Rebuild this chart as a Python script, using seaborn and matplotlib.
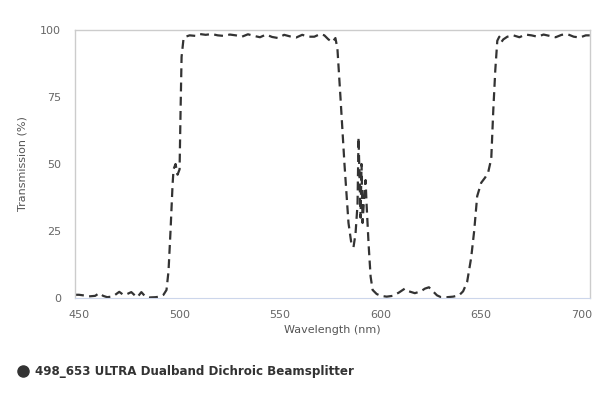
import matplotlib
matplotlib.use('Agg')
import matplotlib.pyplot as plt
import seaborn as sns
import pandas as pd
from matplotlib.lines import Line2D

# Transmission curve
wavelength = [448, 450, 452, 455, 458, 460, 462, 464, 466, 468, 470, 472, 474, 476, 478, 479, 481, 483,
              485, 488, 490, 492, 493.5, 494.5, 495.5, 496.5, 497, 498, 499, 500, 500.5, 501, 502,
              503, 505, 508, 510, 513, 516, 519, 522, 525, 528, 531, 534, 537, 540, 543, 546, 549,
              552, 555, 558, 561, 564, 567, 570, 572, 574, 576, 577.5, 578.5, 580, 582, 584, 585.5,
              586.5, 587.5, 588.5, 589, 589.5, 590, 590.5, 591, 592, 592.5, 593, 594, 595, 596, 598,
              600, 603, 606, 609, 612, 614, 617, 620, 622, 624, 626, 628, 630, 633, 636, 639, 641,
              643, 645, 646.5, 648, 650, 652, 653.5, 655, 656, 657, 658, 659, 660, 661, 663, 666,
              669, 672, 675, 678, 681, 684, 687, 690, 693, 696, 699, 702, 704]
transmission = [1.2, 1.2, 1.0, 0.6, 0.8, 1.8, 0.8, 0.3, 0.5, 1.2, 2.3, 1.2, 1.5, 2.2, 0.8, 0.3, 2.2, 0.5,
                0.2, 0.3, 0.5, 1.2, 3, 10, 25, 42, 48, 50, 46, 48, 70, 90, 97,
                97.5, 98, 97.8, 98.5, 98.2, 98.5, 98, 97.8, 98.3, 98, 97.5, 98.4, 97.8, 97.3, 98.3, 97.4, 97,
                98.2, 97.6, 97.2, 98.2, 97.5, 97.5, 98.5, 98, 96.5, 95.5, 97, 93, 75, 50, 28, 20,
                19, 24, 35, 60, 45, 30, 50, 28, 40, 44, 35, 20, 8, 3, 1.5,
                0.8, 0.5, 0.8, 2, 3.5, 2.5, 1.8, 2.5, 3.5, 4, 2.5, 1, 0.3, 0.3, 0.5, 1,
                2.5, 6, 15, 25, 38, 43, 45, 47, 52, 70, 85, 96, 97.5, 95.5, 96.5, 97.5, 98,
                97.3, 98.3, 98, 97.5, 98.3, 97.8, 97.3, 98.2, 98.4, 97.5, 97.2, 98, 98]
series_name = '498_653 ULTRA Dualband Dichroic Beamsplitter'
x_ticks = [450, 500, 550, 600, 650, 700]
y_ticks = [0, 25, 50, 75, 100]

df = pd.DataFrame({'Wavelength': wavelength, 'Transmission': transmission})

sns.set_style('white')
plt.rcParams['font.family'] = ['DejaVu Sans']

fig = plt.figure(figsize=(6, 4), dpi=100)
ax = fig.add_axes([0.125, 0.255, 0.858, 0.67])

sns.lineplot(data=df, x='Wavelength', y='Transmission', ax=ax, color='#333333',
             linewidth=1.6, dashes=False, linestyle=(0, (4, 2.4)))

ax.set_xlim(448, 704)
ax.set_ylim(0, 100)
ax.set_xticks(x_ticks)
ax.set_yticks(y_ticks)
ax.set_xlabel('Wavelength (nm)', fontsize=8, color='#555555')
ax.set_ylabel('Transmission (%)', fontsize=8, color='#555555', labelpad=9)
ax.tick_params(axis='x', colors='#ccd6eb', labelcolor='#666666', labelsize=8, length=5, width=1)
ax.tick_params(axis='y', colors='#dde3ee', labelcolor='#666666', labelsize=8, length=7, width=1, pad=3)

for side in ['top', 'right', 'left']:
    ax.spines[side].set_color('#cccccc')
    ax.spines[side].set_linewidth(1)
ax.spines['bottom'].set_color('#ccd6eb')

# Legend under the chart
handle = Line2D([], [], marker='o', color='#333333', linestyle='none', markersize=8)
fig.legend([handle], [series_name], loc='center left', bbox_to_anchor=(0.0, 0.07),
           frameon=False, handletextpad=0.0, prop={'weight': 'bold', 'size': 8.6}, labelcolor='#333333')

plt.savefig('out.png', dpi=100)
